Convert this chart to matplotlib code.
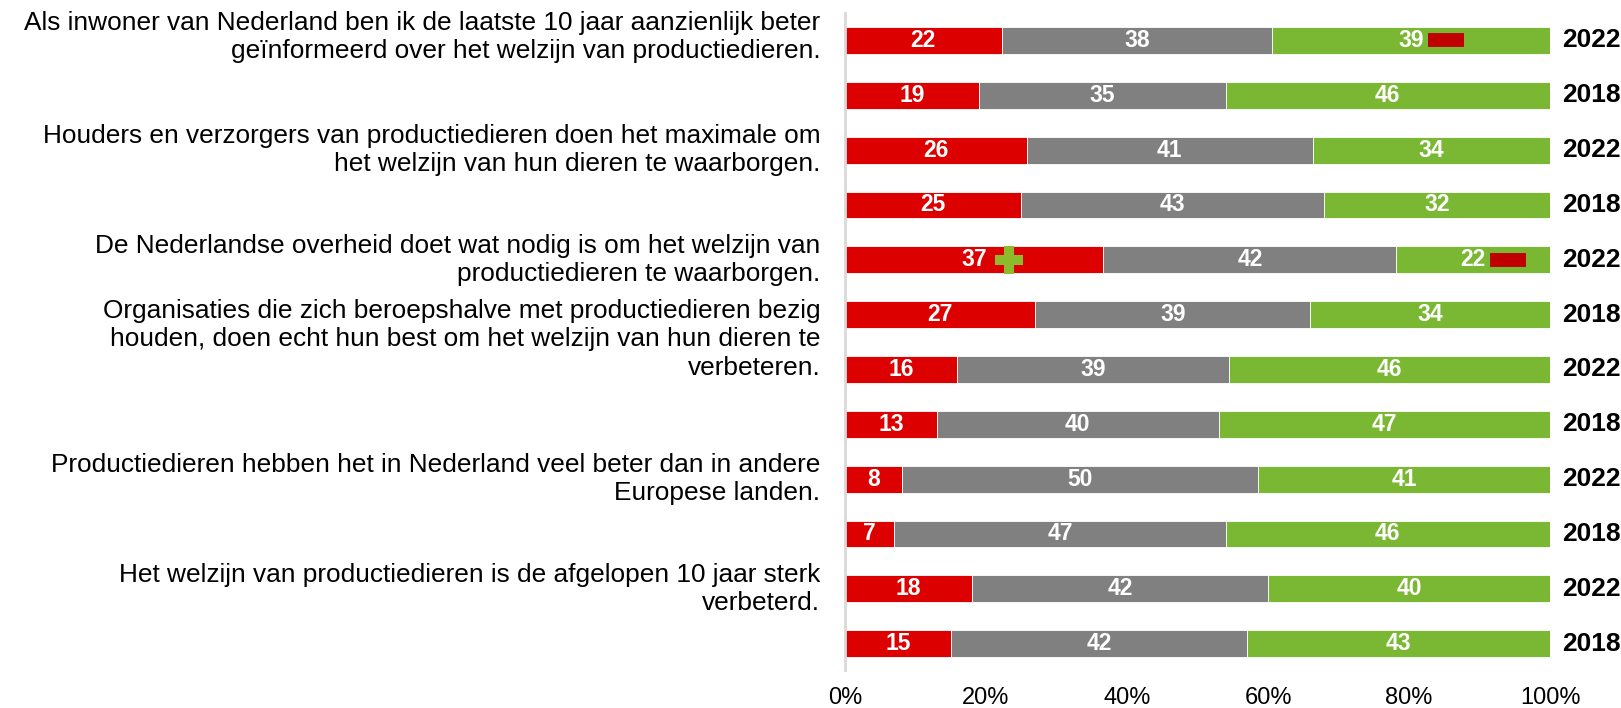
"""Stacked 100% bars: opinions on welfare of production animals, 2022 vs 2018."""

import matplotlib
matplotlib.use("Agg")
import matplotlib.pyplot as plt
import matplotlib.transforms as mtransforms
import numpy as np

plt.rcParams['font.family'] = ['Liberation Sans', 'DejaVu Sans']

# statements (one per pair of bars)
statements = [
    "Als inwoner van Nederland ben ik de laatste 10 jaar aanzienlijk beter\ngeïnformeerd over het welzijn van productiedieren.",
    "Houders en verzorgers van productiedieren doen het maximale om\nhet welzijn van hun dieren te waarborgen.",
    "De Nederlandse overheid doet wat nodig is om het welzijn van\nproductiedieren te waarborgen.",
    "Organisaties die zich beroepshalve met productiedieren bezig\nhouden, doen echt hun best om het welzijn van hun dieren te\nverbeteren.",
    "Productiedieren hebben het in Nederland veel beter dan in andere\nEuropese landen.",
    "Het welzijn van productiedieren is de afgelopen 10 jaar sterk\nverbeterd.",
]
statement_pos = [-0.06, 2, 4, 5.45, 8, 10]   # bar index the text is centred on

years = ["2022", "2018"] * 6
oneens = [22, 19, 26, 25, 37, 27, 16, 13, 8, 7, 18, 15]
neutraal = [38, 35, 41, 43, 42, 39, 39, 40, 50, 47, 42, 42]
eens = [39, 46, 34, 32, 22, 34, 46, 47, 41, 46, 40, 43]

# significant changes vs 2018: (bar index, segment, sign)
changes = [(0, 2, "-"), (4, 0, "+"), (4, 2, "-")]

colors = ["#dd0000", "#808080", "#7ab833"]

vals = np.array([oneens, neutraal, eens], dtype=float)
shares = vals / vals.sum(axis=0) * 100
y = np.arange(len(years))

fig = plt.figure(figsize=(16.21, 7.08), dpi=100)
ax = fig.add_axes([0.5213, 0.0537, 0.4349, 0.9279])

left = np.zeros(len(years))
centers = []
for k in range(3):
    ax.barh(y, shares[k], left=left, height=0.49, color=colors[k],
            edgecolor="white", linewidth=0.6)
    mid = left + shares[k] / 2
    centers.append(mid)
    for i in range(len(years)):
        ax.text(mid[i], y[i], f"{int(vals[k][i])}", ha="center", va="center",
                color="white", fontsize=16.5, fontweight="bold")
    left = left + shares[k]

for i, seg, sign in changes:
    x = centers[seg][i] + 5.0
    if sign == "-":
        ax.plot(x, y[i], marker="_", markersize=26, markeredgewidth=10,
                color="#c00000", solid_capstyle="butt")
    else:
        ax.plot(x, y[i], marker="P", markersize=20, color="#8cbb2c",
                markeredgewidth=0)

trans = mtransforms.blended_transform_factory(ax.transAxes, ax.transData)
for i, yr in enumerate(years):
    ax.text(1.017, y[i], yr, transform=trans, ha="left", va="center",
            fontsize=19, fontweight="bold", color="black")

for txt, pos in zip(statements, statement_pos):
    ax.text(-0.035, pos, txt, transform=trans, ha="right", va="center",
            fontsize=18.9, color="black", linespacing=1.23)

ax.set_xlim(0, 100)
ax.set_ylim(11.48, -0.5)
ax.set_xticks([0, 20, 40, 60, 80, 100])
ax.set_xticklabels(["0%", "20%", "40%", "60%", "80%", "100%"], fontsize=17)
ax.set_yticks([])
ax.tick_params(axis="x", length=0, pad=12)
for side in ["top", "right", "bottom"]:
    ax.spines[side].set_visible(False)
ax.spines["left"].set_color("#d9d9d9")
ax.spines["left"].set_linewidth(2)

fig.savefig("out.png", dpi=100)
